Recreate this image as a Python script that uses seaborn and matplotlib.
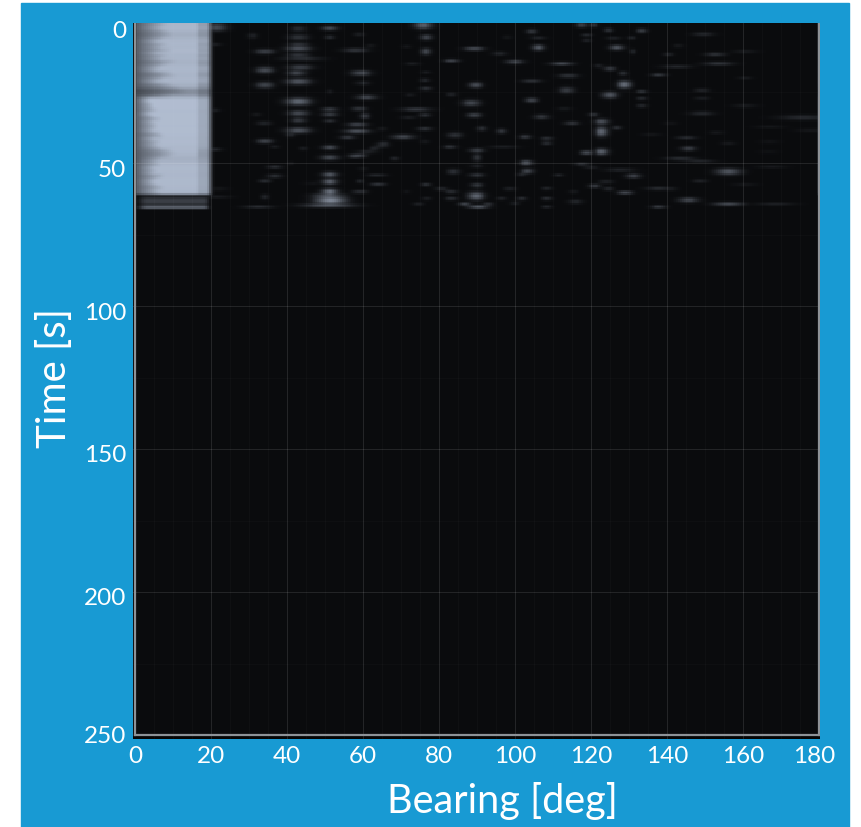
import numpy as np
import seaborn as sns
import matplotlib.pyplot as plt
from matplotlib.colors import LinearSegmentedColormap
from matplotlib.patches import Rectangle
from matplotlib.transforms import ScaledTranslation

x_ticks = [0, 20, 40, 60, 80, 100, 120, 140, 160, 180]
y_ticks = [0, 50, 100, 150, 200, 250]

# Strong source at 0-20 deg, one row per second from t=0 to t=60
block_level = [.92, .94, .95, .94, .9, .9, .93, .95, .95, .94, .96, .95, .93, .94, .92, .93, .95, .95, .94, .93,
               .95, .94, .92, .88, .72, .7, .82, .97, .98, .98, .98, .97, .97, .98, .97, .98, .97, .97, .98, .97,
               .97, .96, .97, .96, .95, .96, .94, .93, .9, .92, .95, .96, .96, .95, .95, .96, .96, .96, .95, .95, .9]
block_fade = [8, 9, 7, 9, 10, 10, 8, 6, 9, 7, 10, 6, 9, 7, 11, 9, 7, 6, 10, 11,
              8, 6, 10, 12, 14, 14, 10, 4, 4, 5, 5, 6, 4, 5, 7, 5, 6, 6, 5, 7,
              8, 5, 7, 6, 7, 10, 11, 10, 7, 6, 7, 5, 6, 5, 8, 6, 5, 6, 8, 6, 7]
# Dim rows below the block: second, level
block_tail = [(61, .08), (62, .24), (63, .3), (64, .18), (65, .55)]

# Blobs: bearing, time, half width, half height, level
near_20 = [(21.5, 2.5, 2, 1.5, .38), (21, 8.5, 1.5, .2, .25), (21, 31.5, 1.2, .2, .25), (21, 45.2, 1.5, .2, .3),
           (21.5, 61.8, 3, .3, .15), (22, 59, 2, .2, .15), (32.5, 65.3, 3, .2, .35), (31, 5.5, 1, 1, .15)]
track_34 = [(34.2, 11, 2, .8, .35), (34.2, 17.5, 1.8, 1.2, .4), (34.2, 22.7, 1.8, 1.2, .35), (34, 36, 1.5, .5, .2),
            (34.2, 42.3, 1.6, .6, .4), (36.8, 44.3, 1, .2, .2), (36.8, 51.3, 1.5, .4, .3), (36.8, 54.5, 1.5, .5, .3),
            (34.2, 56.2, 1.2, .3, .3), (34.2, 61.8, .7, .9, .2), (32, 33, 1, .3, .15)]
track_43 = [(43, 3, 1.5, 1, .2), (43, 6, 2, 1, .25), (43, 8.5, 2, .6, .3), (43, 10, 2.5, .7, .5),
            (43, 12.2, 2.2, .6, .3), (44, 13.5, 4, .4, .3), (43.5, 16.5, 2.5, .8, .35), (42.5, 18.5, 1.8, .9, .4),
            (43, 21.5, 2.5, 1.2, .45), (43, 28.5, 2.5, 1.5, .55), (43, 32.5, 2, 1, .4), (43, 35, 1.5, 1, .3),
            (43, 38.5, 2.5, 1, .45), (41, 40, 1, .8, .2), (44.3, 44.9, .8, .3, .2), (41, 50, .6, .3, .12)]
track_51 = [(51.3, 2.8, 1.6, .6, .45), (51.3, 6, 1, .4, .3), (51.3, 25, .6, .8, .12), (51.3, 31.2, 1.6, .5, .4),
            (51.3, 33, 1.6, .5, .4), (51.3, 35.2, 1.2, .4, .3), (51.3, 44.5, 1.5, .7, .45), (51.3, 48, 1.8, .9, .4),
            (51.3, 54, 1.5, 1, .5), (51.3, 56.5, 1.5, 1, .55), (51.3, 60, 1.6, 1.2, .65), (51.5, 63, 3, 1.5, .75),
            (51, 64.8, 5, .5, .6), (51, 61.5, 3, 1, .5), (47, 57, 2, .2, .12)]
track_59 = [(59, 5, 1, .6, .15), (58, 10.5, 2.5, .6, .3), (59.5, 18.5, 2, 1, .4), (60, 22, 1.5, .5, .2),
            (61, 27, 2, .7, .4), (59, 31, 1.5, .6, .3), (60.5, 33.5, 1, 1, .3), (58.5, 36.5, 2, .6, .4),
            (58.5, 38.8, 2.5, .6, .5), (56, 41, 1.5, .5, .35), (65, 38, 1, .3, .15), (61, 46, 2, .4, .2),
            (58, 47.5, 1.5, .5, .45), (65, 44, 1.5, .3, .25), (64, 57.4, 1.5, .3, .4), (63.6, 54.2, 2, .2, .3),
            (59.2, 56.3, .6, .4, .25), (59.2, 60, 1.5, .3, .35), (60, 52, 1, .2, .15), (65.4, 43, 1.2, .3, .3),
            (63, 44.9, 1, .3, .25), (58.8, 47.4, 1.5, .4, .5), (68.4, 48.4, .8, .4, .25), (62, 9, 1, .3, .15)]
track_76 = [(75.9, 1.8, 1.8, 1.4, .5), (76.7, 6, 1.2, .9, .4), (76.6, 11, 1, 1.3, .4), (70.6, 40.8, 2.2, .8, .4),
            (74, 31.2, 3, .4, .4), (71.5, 9.3, 1, .2, .15), (73, 15.2, 1.5, .2, .2), (72.4, 26.2, 1, .3, .15),
            (76.3, 21, 1, .4, .25), (76.6, 23.9, 1.2, .5, .3), (76.6, 18.3, 1, .2, .2), (76.3, 33.2, 1.2, .5, .3),
            (76.3, 38, 1.5, .3, .4), (76.3, 42.5, 1, .2, .2), (76.6, 57.5, 1, .4, .35), (76.8, 62.4, 1, .3, .2),
            (71.5, 60, .8, .2, .15), (74.6, 64.3, 1, .3, .2), (72, 34, 1.5, .3, .2)]
track_90 = [(83.3, 14.2, 1.5, .3, .5), (82.9, 44.3, 1.3, .4, .35), (84.2, 40.2, 1.5, 1, .25), (83.8, 53, 1.2, .9, .25),
            (89.3, 10, 2, .4, .55), (89.7, 22.7, 1.3, 1, .42), (88.5, 29, 1.8, 1.2, .38), (83.3, 26, 1, .5, .2),
            (89.3, 33.2, 1.4, .8, .38), (80.7, 59, 1.3, .2, .35), (83.3, 60, 1.2, .3, .35), (83.3, 62.4, 1.2, .3, .35),
            (89.8, 61.5, 1.6, 1.6, .55), (86.8, 64.3, 1.2, .3, .55), (90.4, 65.3, 2, .4, .65), (93, 64.3, 1, .3, .35),
            (91.3, 37.9, 1, .8, .25), (96.5, 38.8, 1, .8, .3), (90, 45.5, 1.5, .5, .4), (90, 48, .8, 1.5, .25),
            (90, 54.2, 1.5, .6, .3), (90, 57.7, 1.2, .8, .3), (97, 44.3, 3, .2, .2), (90, 51, 1.2, .3, .22)]
track_105 = [(104.4, 4, 1, .8, .3), (106.2, 9.6, 1.2, 1, .5), (100, 14.6, 1.8, .6, .4), (96, 11.7, 1.5, .6, .2),
             (104.4, 21.3, 2, .4, .3), (114, 19.5, 2, .5, .3), (112.3, 15.2, 2.2, .3, .6), (113.6, 24.5, 1.5, 1.2, .3),
             (104.4, 28, 1.2, .8, .4), (107, 33.8, 1.5, .8, .3), (115, 36, 1.5, .4, .35), (102.7, 40.8, 1.2, .6, .35),
             (108.4, 41.4, 1.2, .4, .3), (108.4, 43, 1, .4, .3), (103, 49.8, 1.2, .8, .5), (103.3, 52.8, 1.2, .8, .4),
             (101.8, 54, 1, .3, .3), (106.2, 6.2, 1.5, .2, .25), (108.4, 58.9, 1, .2, .3), (108.4, 62.4, 1, .3, .35),
             (108.4, 65.3, 1, .2, .3), (101.8, 62.4, 1, .3, .35), (100, 64, 1, .2, .25), (96.5, 62.4, 1, .2, .3),
             (98.7, 59, 1.2, .2, .3), (111.5, 54.2, 1, .2, .3), (116, 63.5, 1.5, .6, .2), (115.4, 60, 1, .2, .2),
             (98, 6, 1, .2, .15), (113, 31, 1.5, .2, .2)]
track_123 = [(118.9, 46.3, 1.2, .6, .5), (122.8, 46, 1.3, 1.2, .55), (122.8, 39, 1.2, 2, .55), (122.8, 35.5, 1.4, 1, .45),
             (120.7, 33, 1, .5, .3), (126.8, 37.6, 1, .5, .3), (125, 26.2, 1.5, 1.2, .45), (128.8, 22.5, 1.3, 1.5, .6),
             (128.5, 18.6, .8, .6, .3), (125, 17, 1.2, .6, .35), (122, 16, 1, .2, .3), (126.8, 9.6, 1.4, .8, .5),
             (124.6, 3.5, .8, .6, .3), (117.6, 1.7, 1.2, .8, .35), (120.7, 1.7, .8, .6, .3), (118.9, 5.2, 1, .2, .3),
             (130.7, 6.2, .8, .3, .25), (126, 6.4, 1.5, .2, .25), (118.9, 7, .8, .3, .25), (129, 60.3, 1.5, .3, .6),
             (131.2, 54.5, 1.5, .7, .4), (127.7, 52.4, 3, .2, .3), (121, 58, 1.2, .5, .4), (124, 56.5, 1.5, .2, .3),
             (124.6, 59, 1, .3, .3), (117.6, 50.4, 1.5, .2, .35), (120, 51.5, 1.5, .2, .25), (131, 11, .6, .8, .2)]
track_right = [(133.4, 3.7, 1, .7, .35), (133.4, 25, 1, .3, .4), (133.4, 27.4, 1, .3, .3), (133.4, 30, 1, .3, .3),
               (137.8, 19.2, 1.5, .3, .4), (142.6, 16.3, 3, .2, .3), (140.4, 12, 1, .3, .25), (143, 9, 1, .2, .2),
               (149.6, 4.9, 2.2, .6, .2), (152.7, 12, 2, .5, .3), (153.6, 15.2, 3, .4, .35), (160.6, 11, 2.5, .2, .2),
               (160.6, 20.2, 1.5, .2, .15), (160.6, 30, 2.5, .2, .2), (149.2, 24.5, 1.5, .3, .25), (149.2, 27.4, 1.5, .2, .2),
               (149.2, 32.6, 2.5, .6, .2), (145.2, 41.1, 2, .3, .3), (145.7, 44.9, 1.5, .7, .35), (153, 39.3, 1.5, .2, .15),
               (156.2, 43, 1.5, .2, .2), (143.5, 48.4, 3, .3, .3), (148.7, 49.3, 3, .2, .25), (156.2, 53, 2.5, 1.2, .45),
               (148.7, 56.2, 1.5, .3, .2), (145.7, 62.9, 2, .8, .4), (156.2, 64.3, 3, .4, .5), (168.5, 64.3, 4, .2, .2),
               (167.6, 51.3, 3, .2, .15), (160.6, 57.5, 2.5, .2, .15), (137.8, 58.9, 2.5, .3, .3), (140.8, 59, 1.5, .2, .25),
               (137.8, 65.3, 1.5, .3, .45), (176, 34, 5, .8, .2), (177.7, 38.5, 3, .3, .12), (167, 37.3, 3, .2, .12),
               (167, 42.5, 2, .2, .12), (166.7, 46, 2, .2, .1), (136, 40, 2, .2, .15), (141, 36, 1.5, .2, .12)]

blobs = near_20 + track_34 + track_43 + track_51 + track_59 + track_76 + track_90 + track_105 + track_123 + track_right

# 2 cells per degree, 2 cells per second
bearing = (np.arange(360) + 0.5) / 2
time = (np.arange(500) + 0.5) / 2
grid = np.zeros((500, 360))


def soften(values, axis):
    return (np.roll(values, 1, axis) + 2 * values + np.roll(values, -1, axis)) / 4


for sec, (level, fade) in enumerate(zip(block_level, block_fade)):
    left = np.clip(0.45 + 0.55 * bearing / fade, 0, 1)
    right = np.clip((20.4 - bearing) / 1.2, 0, 1)
    edge = np.where((bearing > 16.5) & (bearing < 20), 0.9 - 0.06 * (fade > 8), 1)
    grid[2 * sec:2 * sec + 2] = level * left * right * edge
grid[:122] = soften(grid[:122], 0)
for sec, level in block_tail:
    grid[2 * sec:2 * sec + 2] = level * np.clip((19.8 - bearing) / 1.2, 0, 1) * np.clip(bearing / 3, 0, 1)

for b, t, wb, wt, level in blobs:
    spread = np.outer(np.exp(-((time - t) / (0.7 * wt + 0.15)) ** 2), np.exp(-((bearing - b) / (1.25 * wb)) ** 2))
    grid = np.maximum(grid, level * spread)

# soften like the scanned figure
for axis in (0, 1):
    grid = soften(grid, axis)

cmap = LinearSegmentedColormap.from_list("sonar", ["#0a0b0d", "#b4c0d4"])

fig = plt.figure(figsize=(8.61, 8.27), dpi=100, facecolor="white")
fig.add_artist(Rectangle((21 / 861, 0), 828 / 861, 824 / 827, transform=fig.transFigure, color="#189ad3", zorder=-1))

ax = fig.add_axes([133 / 861, 1 - 739 / 827, 687 / 861, 716 / 827])
sns.heatmap(grid, ax=ax, cmap=cmap, vmin=0, vmax=1, cbar=False, xticklabels=False, yticklabels=False)
ax.set_facecolor("#050505")
ax.set_xlim(-1, 360.6)
ax.set_ylim(502.8, 2)

# faint grid and fine texture
for b in range(5, 180, 5):
    ax.axvline(2 * b, color="white", alpha=0.025, lw=0.7)
for t in range(25, 250, 25):
    ax.axhline(2 * t, color="white", alpha=0.025, lw=0.6)
for b in x_ticks[1:-1]:
    ax.axvline(2 * b, color="white", alpha=0.09, lw=0.8)
for t in y_ticks[1:-1]:
    ax.axhline(2 * t, color="white", alpha=0.09, lw=0.8)
ax.plot([0, 0], [2, 500], color="#8d9297", lw=1.6)
ax.plot([360, 360], [2, 500], color="#8d9297", lw=1.6)
ax.plot([0, 360], [500, 500], color="#8d9297", lw=1.6)

for spine in ax.spines.values():
    spine.set_visible(False)

ax.set_xticks([2 * b for b in x_ticks])
ax.set_xticklabels(x_ticks)
ax.set_yticks([max(2 * t, 2) for t in y_ticks])
ax.set_yticklabels(y_ticks)
ax.tick_params(axis="both", colors="white", labelsize=17.5, length=0, pad=5)
for tick in ax.get_xticklabels() + ax.get_yticklabels():
    tick.set_fontfamily("Lato")

# labels sit a little below their ticks, as in the original figure
for tick, dy in zip(ax.get_yticklabels(), [-7, -5, -5, -4, -4, 0]):
    tick.set_transform(tick.get_transform() + ScaledTranslation(0, dy / 100, fig.dpi_scale_trans))
ax.get_xticklabels()[-1].set_transform(
    ax.get_xticklabels()[-1].get_transform() + ScaledTranslation(-5 / 100, 0, fig.dpi_scale_trans))

fig.text(502 / 861, 1 - 801 / 827, "Bearing [deg]", color="white", fontsize=28.5, family="Lato", ha="center", va="center")
fig.text(54 / 861, 1 - 378 / 827, "Time [s]", color="white", fontsize=29, family="Lato", rotation=90, ha="center", va="center")

fig.savefig("out.png", dpi=100, facecolor="white")
